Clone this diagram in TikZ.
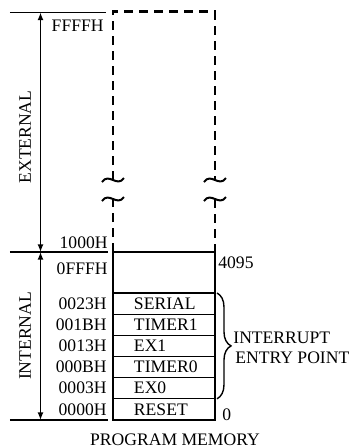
\documentclass[tikz,border=0pt]{standalone}
\usepackage{fontspec}
\setmainfont{Liberation Serif}
\usetikzlibrary{positioning, arrows.meta, decorations.pathreplacing, calc}
\tikzset{
    cell/.style={draw, line width=0.6pt, minimum width=51pt, minimum height=10.58pt,
        text width=30pt, inner xsep=10.5pt, inner ysep=0pt, align=left, outer sep=0pt},
    addr/.style={inner sep=0pt},
    rule/.style={line width=0.7pt},
    span/.style={line width=0.7pt, {Latex[length=3.8pt,width=3pt]}-{Latex[length=3.8pt,width=3pt]}},
    ext/.style={line width=1.1pt, dash pattern=on 4.5pt off 3pt},
    brk/.style={line width=1pt},
    side/.style={rotate=90, inner sep=0pt}
}

\begin{document}
\begin{tikzpicture}[x=0.5pt, y=-0.5pt, font=\fontsize{8.8}{10}\selectfont]
    \useasboundingbox (0,0) rectangle (352,447);

    % Memory cells
    \node[cell, minimum height=20.5pt] (free) at (164,272.5) {};
    \node[cell, below=0pt of free] (serial) {SERIAL};
    \node[cell, below=0pt of serial] (timer1) {TIMER1};
    \node[cell, below=0pt of timer1] (ex1) {EX1};
    \node[cell, below=0pt of ex1] (timer0) {TIMER0};
    \node[cell, below=0pt of timer0] (ex0) {EX0};
    \node[cell, below=0pt of ex0] (reset) {RESET};
    \draw[line width=1.1pt] (free.north west) rectangle (reset.south east);

    % Addresses
    \foreach \name/\addr in {serial/0023H, timer1/001BH, ex1/0013H,
                             timer0/000BH, ex0/0003H, reset/0000H} {
        \node[addr, left=3pt of \name] (a-\name) {\addr};
    }
    \node[addr, anchor=north east] (a-top) at (108,262) {0FFFH};
    \node[addr, anchor=south east] (a-ext) at (108,249) {1000H};
    \node[addr, anchor=north east] (a-max) at (104,20) {FFFFH};
    \node[addr, anchor=north west] (d-top) at ($(free.north east)+(3,4)$) {4095};
    \node[addr, anchor=base west] (d-bot) at ($(reset.south east)+(7,1)$) {0};

    % Boundaries and spans
    \coordinate (t-l) at (10,12.5);
    \coordinate (t-r) at (106,12.5);
    \coordinate (m-l) at (10,252);
    \coordinate (m-r) at (108,252);
    \coordinate (b-l) at (10,420);
    \coordinate (b-r) at (108,420);
    \draw[rule] (t-l) -- (t-r);
    \draw[rule] (m-l) -- (m-r);
    \draw[rule] (b-l) -- (b-r);
    \coordinate (s-top) at (40.5,12.5);
    \coordinate (s-mid) at (40.5,252);
    \coordinate (s-bot) at (40.5,420);
    \draw[span] (s-top) -- (s-mid);
    \draw[span] (s-mid) -- (s-bot);
    \node[side] (external) at (25,137) {EXTERNAL};
    \node[side] (internal) at (25,336) {INTERNAL};

    % External memory, broken
    \coordinate (c-l) at (113,11.5);
    \coordinate (c-r) at (215,11.5);
    \coordinate (k-l1) at (113,180);
    \coordinate (k-l2) at (113,199);
    \coordinate (k-r1) at (215,180);
    \coordinate (k-r2) at (215,199);
    \draw[ext] (free.north west) -- (k-l2);
    \draw[ext] (k-l1) -- (c-l) -- (c-r) -- (k-r1);
    \draw[ext] (k-r2) -- (free.north east);
    \foreach \x in {113,215} {
        \foreach \y in {180,199} {
            \draw[brk] (\x-11,\y+2) .. controls (\x-4,\y-8) and (\x+4,\y+8) .. (\x+11,\y-2);
        }
    }

    % Interrupt vectors
    \draw[line width=0.7pt, decorate, decoration={brace, amplitude=7pt}]
        ($(serial.north east)+(2,0)$) -- ($(ex0.south east)+(2,0)$);
    \node[addr, anchor=west, align=left] (irq) at (233,348)
        {INTERRUPT\\\hspace*{1pt}ENTRY POINT};

    \node[addr, anchor=base] (title) at (175,445) {PROGRAM MEMORY};
\end{tikzpicture}
\end{document}
